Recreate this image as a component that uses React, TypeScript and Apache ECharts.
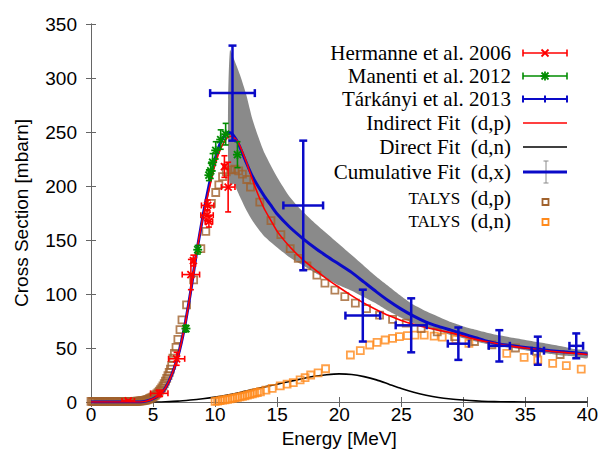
import React, { useEffect, useRef } from 'react';
import * as echarts from 'echarts';

// [energy, sigma, xerr, yerr]
const hermanne = [
  [3.0, 1, 0.5, 1], [5.5, 8, 0.7, 3], [6.9, 40, 0.65, 6], [8.05, 118, 0.7, 14],
  [8.25, 131, 0.1, 5], [9.35, 173, 0.5, 5], [9.4, 182, 0.5, 5], [9.5, 167, 0.3, 5],
  [10.75, 218, 0.1, 10], [11.05, 199, 0.55, 23],
];
const manenti = [
  [7.65, 68, 0, 3], [8.6, 141, 0, 4], [9.5, 210, 0, 5], [9.65, 214, 0, 7],
  [9.8, 222, 0, 8], [10.05, 233, 0, 8], [10.45, 243, 0, 9], [10.85, 248, 0, 10],
  [11.8, 229, 0, 12],
];
const tarkanyi = [
  [11.4, 286, 1.8, 44], [17.1, 182, 1.6, 60], [21.9, 80, 1.4, 24], [25.8, 71, 1.25, 25],
  [29.6, 54, 0.85, 15], [32.9, 52, 0.85, 14.5], [36.0, 47.5, 0.5, 13], [39.1, 52, 0.55, 11.5],
];

const indirectFit = [
  [0, 0], [4, 0], [4.5, 1], [5, 3], [5.5, 6.5], [6, 13], [6.5, 25], [7, 42], [7.5, 67], [8, 100],
  [8.5, 138], [9, 170], [9.5, 196], [10, 220], [10.5, 236], [11, 245], [11.3, 246], [11.7, 243],
  [12, 237], [12.5, 223], [13, 206], [13.5, 191], [14, 178], [14.5, 168], [15, 158], [16, 144],
  [17, 132.5], [18, 123], [19, 114], [20, 106], [21, 98.5], [22, 91.5], [23, 85.5], [24, 80],
  [25, 75.5], [26, 72], [27, 69], [28, 66.5], [29, 64], [30, 61], [31, 58], [32, 55.5], [33, 53.5],
  [34, 51.5], [35, 50], [36, 48.5], [37, 47], [38, 46], [39, 45], [40, 44],
];
const directFit = [
  [0, 0], [5, 0], [6, 0.3], [7, 0.8], [8, 1.8], [9, 3], [10, 4.5], [11, 6.5], [12, 8.8], [13, 11.5],
  [14, 14], [15, 16.5], [16, 19], [17, 21.5], [18, 23.8], [19, 25.3], [20, 26], [21, 25.5],
  [22, 23.5], [23, 20.5], [24, 16.5], [25, 12.5], [26, 9], [27, 6.3], [28, 4.2], [29, 2.8],
  [30, 1.8], [31, 1], [32, 0.5], [33, 0.2], [35, 0], [40, 0],
];
const cumulativeFit = [
  [0, 0], [4, 0], [4.5, 1], [5, 3], [5.5, 6.5], [6, 13], [6.5, 25], [7, 42], [7.5, 67], [8, 100],
  [8.5, 138], [9, 171], [9.5, 200], [10, 225], [10.5, 242], [11, 249.5], [11.3, 249], [11.7, 243],
  [12, 236], [12.5, 222], [13, 209], [13.5, 199], [14, 190], [14.5, 182], [15, 174], [16, 162],
  [17, 152], [18, 143], [19, 135], [20, 127.5], [21, 120], [22, 111], [23, 102], [24, 93.5],
  [25, 86], [26, 79.5], [27, 74], [28, 70], [29, 66.5], [30, 63], [31, 59.5], [32, 56],
  [33, 53.5], [34, 52], [35, 50.5], [36, 49], [37, 47.5], [38, 46.5], [39, 45.5], [40, 44.5],
];
const bandE = [11.05, 11.2, 11.5, 12, 12.5, 13, 13.5, 14, 15, 16, 17, 18, 19, 20, 21, 22, 23, 24, 25, 26, 27, 28, 29, 30, 31, 32, 33, 34, 35, 36, 37, 38, 39, 40];
const bandLo = [220, 200, 202, 190, 178, 168, 160, 153, 143, 134, 127, 120, 114, 108, 103, 97, 91, 84, 78, 73, 69, 65.5, 62, 59, 56, 53.5, 51.5, 50, 48, 46, 44.5, 43, 42, 40.5];
const bandHi = [280, 326, 318, 303, 285, 262, 245, 230, 208, 190, 177, 166, 156, 146, 136, 126, 116, 107, 98, 90, 84, 79, 74, 70, 67, 64, 61.5, 59.5, 57.5, 55.5, 53.5, 51.5, 49, 47];

const talysDP = [
  [0, 0.5], [0.1, 0.5], [0.2, 0.5], [0.3, 0.5], [0.4, 0.5], [0.5, 0.5], [0.6, 0.5], [0.7, 0.5],
  [0.8, 0.5], [0.9, 0.5], [1, 0.5], [1.1, 0.5], [1.2, 0.5], [1.3, 0.5], [1.4, 0.5], [1.5, 0.5],
  [1.6, 0.5], [1.7, 0.5], [1.8, 0.5], [1.9, 0.5], [2, 0.5], [2.1, 0.5], [2.2, 0.5], [2.3, 0.5],
  [2.4, 0.5], [2.5, 0.5], [2.6, 0.5], [2.7, 0.5], [2.8, 0.5], [2.9, 0.5], [3, 0.5], [3.1, 0.5],
  [3.2, 0.5], [3.3, 0.5], [3.4, 0.5], [3.5, 0.6], [3.6, 0.65], [3.7, 0.7], [3.8, 0.8], [3.9, 0.9],
  [4, 1], [4.1, 1.15], [4.2, 1.3], [4.3, 1.55], [4.4, 1.8], [4.5, 2.1], [4.6, 2.5], [4.7, 3],
  [4.8, 3.5], [4.9, 4.1], [5, 4.8], [5.1, 5.6], [5.2, 6.5], [5.3, 7.5], [5.4, 8.7], [5.5, 10],
  [5.6, 11.5], [5.7, 13], [5.8, 15], [5.9, 17], [6.0, 19.3], [6.1, 21.8], [6.2, 24.5],
  [6.3, 27.4], [6.4, 30.5], [6.5, 34], [6.6, 40.5], [6.72, 45], [6.85, 50.6], [7, 58],
  [7.17, 67], [7.33, 76], [7.7, 90], [8.27, 113], [8.85, 142], [9.25, 158], [9.7, 184],
  [10.05, 194], [10.3, 201], [10.6, 208.6], [10.9, 213], [11.25, 215], [11.6, 215.5], [11.9, 214],
  [12.2, 211], [12.55, 206], [12.85, 199], [13.6, 185], [14.5, 168], [15.3, 155], [16.05, 142],
  [16.7, 133], [17.4, 126], [18.2, 117.5], [18.85, 110], [19.65, 103.5], [20.45, 97.5],
  [21.3, 91.5], [22.2, 86.5], [23.25, 80.5], [24.3, 76.5], [25.4, 73], [26.6, 68], [27.9, 65],
  [29.3, 60.5], [30.9, 56], [32.3, 53], [34.2, 50], [35.9, 47], [37.8, 44],
];
const talysDN = [
  [10, 0.5], [10.2, 0.9], [10.4, 1.3], [10.6, 1.7], [10.8, 2.1], [11, 2.5], [11.2, 2.9], [11.4, 3.3],
  [11.6, 3.8], [11.8, 4.3], [12, 4.8], [12.2, 5.3], [12.4, 5.8], [12.6, 6.4], [12.8, 7], [13, 7.6],
  [13.2, 8.2], [13.4, 8.8], [13.65, 9.5], [14.1, 11], [14.6, 12.7], [15.25, 15], [15.8, 16.5],
  [16.3, 18], [16.85, 20.4], [17.25, 22.5], [17.7, 25], [18.3, 27], [18.9, 30.8], [20.9, 43.5],
  [21.7, 47.5], [22.45, 52.8], [23.05, 55.3], [23.7, 57.4], [24.3, 59], [24.85, 60.5], [25.5, 61.4],
  [26.1, 62], [26.85, 62], [27.65, 61], [28.3, 60], [29.4, 58], [30.45, 54.3], [33.5, 45],
  [34.9, 41.4], [36, 38.9], [37.2, 35.8], [38.3, 33.6], [39.5, 30.5],
];

const xTicks = { min: 0, max: 40, interval: 5 };
const yTicks = { min: 0, max: 350, interval: 50 };

const C_RED = '#ff0000';
const C_GREEN = '#008c00';
const C_BLUE = '#0a0ac8';
const C_BROWN = '#a0622d';
const C_ORANGE = '#ff8a1c';
const C_GRAY = '#8a8a8a';
const AX = '#666666';
const SANS = '"Liberation Sans", Arial, sans-serif';
const SERIF = '"Liberation Serif", "Times New Roman", serif';

function errorBars(name: string, data: number[][], color: string, lw: number, cap: number, marker: string, z: number) {
  return {
    type: 'custom',
    name,
    data,
    z,
    clip: true,
    encode: { x: 0, y: 1 },
    renderItem: (params: any, api: any) => {
      const x = api.value(0), y = api.value(1), xe = api.value(2), ye = api.value(3);
      const c = api.coord([x, y]);
      const st = { stroke: color, lineWidth: lw };
      const ch: any[] = [];
      const ln = (x1: number, y1: number, x2: number, y2: number, s: any = st) =>
        ch.push({ type: 'line', shape: { x1, y1, x2, y2 }, style: s });
      if (ye > 0) {
        const t = api.coord([x, y + ye]);
        const b = api.coord([x, Math.max(0, y - ye)]);
        ln(t[0], t[1], b[0], b[1]);
        ln(t[0] - cap, t[1], t[0] + cap, t[1]);
        ln(b[0] - cap, b[1], b[0] + cap, b[1]);
      }
      if (xe > 0) {
        const l = api.coord([x - xe, y]);
        const r = api.coord([x + xe, y]);
        ln(l[0], l[1], r[0], r[1]);
        ln(l[0], l[1] - cap, l[0], l[1] + cap);
        ln(r[0], r[1] - cap, r[0], r[1] + cap);
      }
      const m = 3.5;
      const ms = { stroke: color, lineWidth: 1.8 };
      if (marker === 'x' || marker === 'star') {
        ln(c[0] - m, c[1] - m, c[0] + m, c[1] + m, ms);
        ln(c[0] - m, c[1] + m, c[0] + m, c[1] - m, ms);
      }
      if (marker === 'star') {
        ln(c[0] - m - 1, c[1], c[0] + m + 1, c[1], ms);
        ln(c[0], c[1] - m - 1, c[0], c[1] + m + 1, ms);
      }
      return { type: 'group', children: ch };
    },
  };
}

function fitLine(name: string, data: number[][], color: string, width: number, z: number) {
  return {
    type: 'line',
    name,
    data,
    z,
    showSymbol: false,
    symbol: 'none',
    smooth: 0.2,
    lineStyle: { color, width, join: 'round' },
    silent: true,
  };
}

function squares(name: string, data: number[][], color: string, z: number) {
  return {
    type: 'scatter',
    name,
    data,
    z,
    symbol: 'rect',
    symbolSize: 7,
    itemStyle: { color: 'rgba(255,255,255,0)', borderColor: color, borderWidth: 1.8 },
    silent: true,
  };
}

function legendGraphics() {
  const rows = [53, 76, 99, 123, 147, 172, 198, 221];
  const tx = 511;
  const x1 = 523, x2 = 567, xm = 545;
  const font = '21px ' + SERIF;
  const els: any[] = [];
  const text = (t: string, y: number) =>
    els.push({ type: 'text', x: tx, y, style: { text: t, font, fill: '#000', textAlign: 'right', textVerticalAlign: 'middle' } });
  const rich = (t: string, y: number) =>
    els.push({
      type: 'text', x: tx, y,
      style: {
        text: '{a|TALYS}{b|\u00a0\u00a0(' + t + ')}', textAlign: 'right', textVerticalAlign: 'middle', fill: '#000',
        rich: { a: { font: '17px ' + SERIF, fill: '#000' }, b: { font, fill: '#000' } },
      },
    });
  const line = (xa: number, ya: number, xb: number, yb: number, stroke: string, lineWidth: number) =>
    els.push({ type: 'line', shape: { x1: xa, y1: ya, x2: xb, y2: yb }, style: { stroke, lineWidth } });
  const errSample = (y: number, color: string, lw: number) => {
    line(x1, y, x2, y, color, lw);
    line(x1, y - 3.5, x1, y + 3.5, color, lw);
    line(x2, y - 3.5, x2, y + 3.5, color, lw);
  };
  text('Hermanne et al. 2006', rows[0]);
  errSample(rows[0], C_RED, 1.6);
  line(xm - 3.5, rows[0] - 3.5, xm + 3.5, rows[0] + 3.5, C_RED, 1.8);
  line(xm - 3.5, rows[0] + 3.5, xm + 3.5, rows[0] - 3.5, C_RED, 1.8);
  text('Manenti et al. 2012', rows[1]);
  errSample(rows[1], C_GREEN, 1.6);
  line(xm - 3.5, rows[1] - 3.5, xm + 3.5, rows[1] + 3.5, C_GREEN, 1.8);
  line(xm - 3.5, rows[1] + 3.5, xm + 3.5, rows[1] - 3.5, C_GREEN, 1.8);
  line(xm - 4.5, rows[1], xm + 4.5, rows[1], C_GREEN, 1.8);
  line(xm, rows[1] - 4.5, xm, rows[1] + 4.5, C_GREEN, 1.8);
  text('Tárkányi et al. 2013', rows[2]);
  errSample(rows[2], C_BLUE, 2);
  line(xm, rows[2] - 3.5, xm, rows[2] + 3.5, C_BLUE, 2);
  text('Indirect Fit\u00a0\u00a0(d,p)', rows[3]);
  line(x1, rows[3], x2, rows[3], C_RED, 1.6);
  text('Direct Fit\u00a0\u00a0(d,n)', rows[4]);
  line(x1, rows[4], x2, rows[4], '#000', 1.6);
  text('Cumulative Fit\u00a0\u00a0(d,x)', rows[5]);
  line(xm + 1, rows[5] - 11, xm + 1, rows[5] + 11, C_GRAY, 1);
  line(xm - 1.5, rows[5] - 11, xm + 3.5, rows[5] - 11, C_GRAY, 1);
  line(xm - 1.5, rows[5] + 11, xm + 3.5, rows[5] + 11, C_GRAY, 1);
  line(x1, rows[5], x2, rows[5], C_BLUE, 3);
  rich('d,p', rows[6]);
  els.push({ type: 'rect', shape: { x: xm - 2.5, y: rows[6] + 1, width: 6, height: 6 }, style: { fill: 'none', stroke: C_BROWN, lineWidth: 1.8 } });
  rich('d,n', rows[7]);
  els.push({ type: 'rect', shape: { x: xm - 2.5, y: rows[7] - 2, width: 6, height: 6 }, style: { fill: 'none', stroke: C_ORANGE, lineWidth: 1.8 } });
  return els;
}

export default function App() {
  const ref = useRef<HTMLDivElement>(null);
  useEffect(() => {
    if (!ref.current) return;
    const chart = echarts.init(ref.current, null, { renderer: 'svg' });
    const bandData = bandE.map((e, i) => [e, bandLo[i], bandHi[i]]);
    const axisCommon = {
      type: 'value',
      axisLine: { show: true, lineStyle: { color: AX, width: 1 } },
      axisTick: { show: true, inside: true, length: 5, lineStyle: { color: AX } },
      splitLine: { show: false },
    };
    const option: any = {
      animation: false,
      grid: { left: 91, right: 10, top: 24, bottom: 51, containLabel: false },
      xAxis: [
        {
          ...axisCommon, ...xTicks, position: 'bottom',
          axisLabel: { color: '#000', fontSize: 19, fontFamily: SANS, margin: 3 },
          name: 'Energy [MeV]', nameLocation: 'middle', nameGap: 27,
          nameTextStyle: { color: '#000', fontSize: 19, fontFamily: SANS },
        },
        { ...axisCommon, ...xTicks, position: 'top', axisLabel: { show: false } },
      ],
      yAxis: [
        {
          ...axisCommon, ...yTicks, position: 'left',
          axisLabel: { color: '#000', fontSize: 19, fontFamily: SANS, margin: 14 },
          name: 'Cross Section [mbarn]', nameLocation: 'middle', nameGap: 60,
          nameTextStyle: { color: '#000', fontSize: 19, fontFamily: SANS },
        },
        { ...axisCommon, ...yTicks, position: 'right', axisLabel: { show: false } },
      ],
      graphic: legendGraphics(),
      series: [
        {
          type: 'custom',
          name: 'band',
          data: bandData,
          z: 1,
          silent: true,
          encode: { x: 0, y: [1, 2] },
          renderItem: (params: any, api: any) => {
            if (params.dataIndex !== 0) return null;
            const pts: number[][] = [];
            for (let i = 0; i < bandE.length; i++) pts.push(api.coord([bandE[i], bandHi[i]]));
            for (let i = bandE.length - 1; i >= 0; i--) pts.push(api.coord([bandE[i], bandLo[i]]));
            return { type: 'polygon', shape: { points: pts, smooth: 0.2 }, style: { fill: C_GRAY } };
          },
        },
        fitLine('Direct Fit (d,n)', directFit, '#000000', 1.6, 2),
        squares('TALYS (d,n)', talysDN, C_ORANGE, 3),
        squares('TALYS (d,p)', talysDP, C_BROWN, 3),
        fitLine('Cumulative Fit (d,x)', cumulativeFit, C_BLUE, 3, 4),
        fitLine('Indirect Fit (d,p)', indirectFit, C_RED, 1.6, 5),
        errorBars('Manenti et al. 2012', manenti, C_GREEN, 1.6, 3, 'star', 6),
        errorBars('Hermanne et al. 2006', hermanne, C_RED, 1.6, 3, 'x', 7),
        errorBars('Tárkányi et al. 2013', tarkanyi, C_BLUE, 2.5, 4, 'none', 8),
      ],
    };
    chart.setOption(option);
    return () => chart.dispose();
  }, []);
  return <div ref={ref} style={{ width: 601, height: 453, position: 'absolute', left: 0, top: 0 }} />;
}
